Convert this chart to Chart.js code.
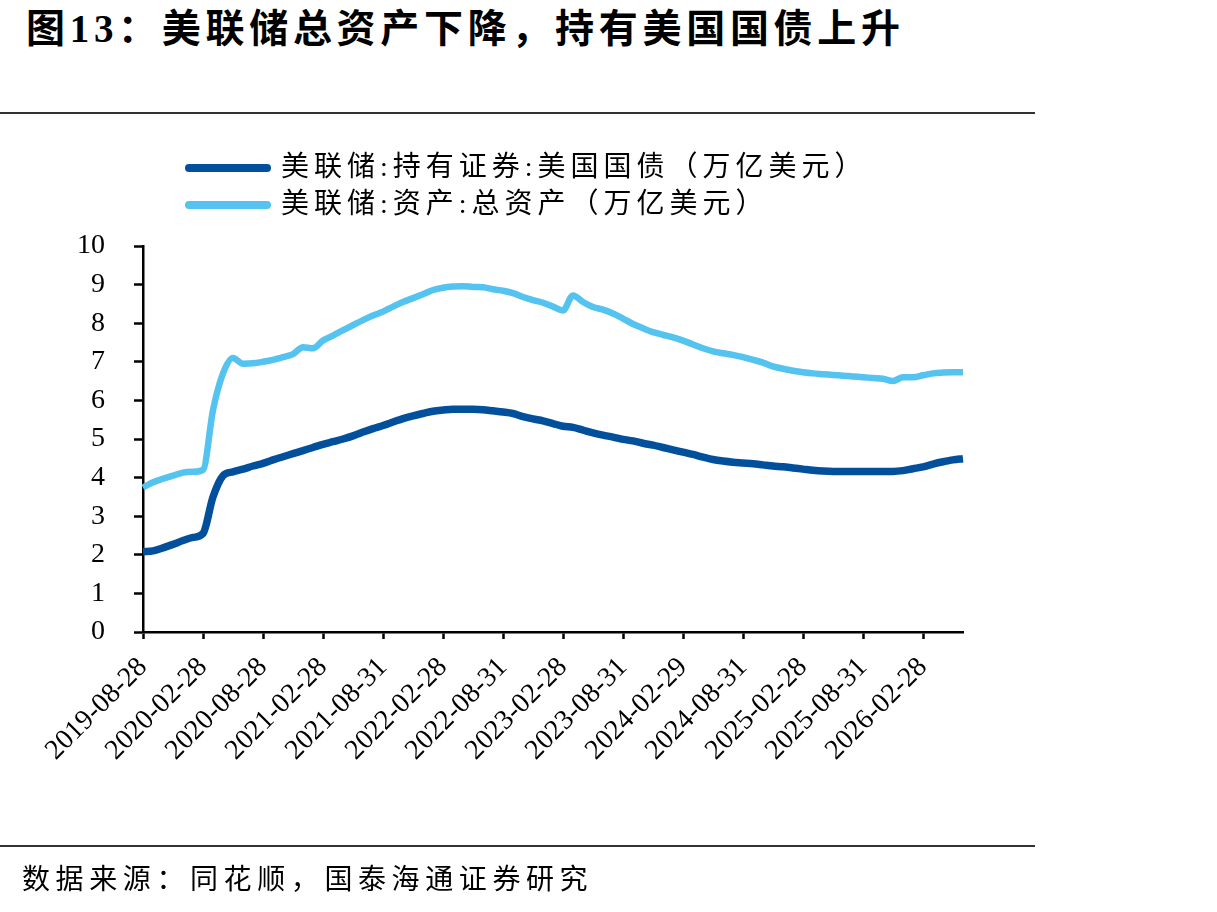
<!DOCTYPE html>
<html lang="zh-CN">
<head>
<meta charset="UTF-8">
<title>图13</title>
<script src="https://cdn.jsdelivr.net/npm/chart.js@4.4.1/dist/chart.umd.min.js"></script>
<style>
  html, body { margin: 0; padding: 0; background: #fff; }
  body { width: 1217px; height: 912px; position: relative; overflow: hidden; font-family: "Liberation Serif", "Noto Sans CJK SC", serif; color: #000; }
  #titulo { position: absolute; left: 26px; top: 9px; font-size: 39px; line-height: 39px; font-weight: bold; letter-spacing: 4.7px; white-space: nowrap; }
  .regua { position: absolute; left: 0; width: 1035px; height: 2px; background: #333; }
  #fonte { position: absolute; left: 22px; top: 865px; font-size: 28px; line-height: 30px; letter-spacing: 5.6px; white-space: nowrap; }
  #chart { position: absolute; left: 0; top: 0; }
</style>
</head>
<body>
<div id="titulo">图13：美联储总资产下降，持有美国国债上升</div>
<div class="regua" style="top:112px"></div>
<canvas id="chart" width="1217" height="912"></canvas>
<div class="regua" style="top:845px"></div>
<div id="fonte">数据来源：同花顺，国泰海通证券研究</div>

<script>
const dates = [
    '2019-08-28', '2019-09-30', '2019-10-31', '2019-11-30', '2019-12-31', '2020-01-31',
    '2020-02-28', '2020-03-31', '2020-04-30', '2020-05-31', '2020-06-30', '2020-07-31',
    '2020-08-28', '2020-09-30', '2020-10-31', '2020-11-30', '2020-12-31', '2021-01-31',
    '2021-02-28', '2021-03-31', '2021-04-30', '2021-05-31', '2021-06-30', '2021-07-31',
    '2021-08-31', '2021-09-30', '2021-10-31', '2021-11-30', '2021-12-31', '2022-01-31',
    '2022-02-28', '2022-03-31', '2022-04-30', '2022-05-31', '2022-06-30', '2022-07-31',
    '2022-08-31', '2022-09-30', '2022-10-31', '2022-11-30', '2022-12-31', '2023-01-31',
    '2023-02-28', '2023-03-31', '2023-04-30', '2023-05-31', '2023-06-30', '2023-07-31',
    '2023-08-31', '2023-09-30', '2023-10-31', '2023-11-30', '2023-12-31', '2024-01-31',
    '2024-02-29', '2024-03-31', '2024-04-30', '2024-05-31', '2024-06-30', '2024-07-31',
    '2024-08-31', '2024-09-30', '2024-10-31', '2024-11-30', '2024-12-31', '2025-01-31',
    '2025-02-28', '2025-03-31', '2025-04-30', '2025-05-31', '2025-06-30', '2025-07-31',
    '2025-08-31', '2025-09-30', '2025-10-31', '2025-11-30', '2025-12-31', '2026-01-31',
    '2026-02-28', '2026-03-31', '2026-04-30', '2026-05-31', '2026-06-30'
];

// 美联储持有美国国债（万亿美元）
const treasuries = [
    2.08, 2.10, 2.18, 2.27, 2.37, 2.45,
    2.55, 3.50, 4.05, 4.15, 4.22, 4.30,
    4.37, 4.46, 4.54, 4.62, 4.70, 4.78,
    4.86, 4.93, 5.00, 5.08, 5.18, 5.27,
    5.35, 5.44, 5.53, 5.60, 5.66, 5.72,
    5.75, 5.77, 5.77, 5.77, 5.76, 5.73,
    5.70, 5.66, 5.58, 5.52, 5.47, 5.40,
    5.33, 5.30, 5.23, 5.16, 5.10, 5.05,
    4.99, 4.95, 4.89, 4.84, 4.78, 4.72,
    4.66, 4.60, 4.53, 4.47, 4.43, 4.40,
    4.38, 4.36, 4.33, 4.30, 4.28, 4.25,
    4.22, 4.19, 4.17, 4.16, 4.16, 4.16,
    4.16, 4.16, 4.16, 4.16, 4.18, 4.23,
    4.28, 4.35, 4.41, 4.46, 4.49
];

// 美联储总资产（万亿美元）
const totalAssets = [
    3.74, 3.88, 3.97, 4.05, 4.13, 4.15,
    4.20, 5.75, 6.70, 7.10, 6.95, 6.96,
    7.00, 7.05, 7.12, 7.20, 7.38, 7.35,
    7.55, 7.68, 7.82, 7.95, 8.08, 8.20,
    8.30, 8.43, 8.55, 8.65, 8.75, 8.86,
    8.92, 8.95, 8.96, 8.94, 8.93, 8.88,
    8.84, 8.78, 8.68, 8.60, 8.53, 8.43,
    8.33, 8.72, 8.55, 8.42, 8.35, 8.25,
    8.12, 7.98, 7.87, 7.77, 7.70, 7.63,
    7.55, 7.45, 7.35, 7.27, 7.22, 7.18,
    7.12, 7.05, 6.98, 6.88, 6.82, 6.77,
    6.73, 6.70, 6.68, 6.66, 6.64, 6.62,
    6.60, 6.58, 6.56, 6.50, 6.60, 6.60,
    6.65, 6.70, 6.72, 6.73, 6.73
];

const seriesNames = ['美联储:持有证券:美国国债（万亿美元）', '美联储:资产:总资产（万亿美元）'];
const seriesColors = ['#02509C', '#55C3F0'];
const yTicks = [0, 1, 2, 3, 4, 5, 6, 7, 8, 9, 10];
const tickEvery = 6;

const serifFont = '"Liberation Serif", "Noto Sans CJK SC", serif';

// legenda desenhada à mão para ficar alinhada à esquerda
const legendLines = {
    id: 'legendLines',
    afterDraw(chart) {
        const ctx = chart.ctx;
        ctx.save();
        chart.data.datasets.forEach((ds, i) => {
            const y = 168 + i * 37;
            ctx.strokeStyle = ds.borderColor;
            ctx.lineWidth = 8;
            ctx.lineCap = 'round';
            ctx.beginPath();
            ctx.moveTo(189, y);
            ctx.lineTo(267, y);
            ctx.stroke();
            ctx.fillStyle = '#000';
            ctx.font = '28px ' + serifFont;
            ctx.letterSpacing = '5px';
            ctx.textBaseline = 'middle';
            ctx.fillText(ds.label, 281, y + 1);
        });
        ctx.restore();
    }
};

const ctx = document.getElementById('chart').getContext('2d');

new Chart(ctx, {
    type: 'line',
    data: {
        labels: dates,
        datasets: [
            {
                label: seriesNames[0],
                data: treasuries,
                borderColor: seriesColors[0],
                backgroundColor: seriesColors[0],
                borderWidth: 7.5,
                pointRadius: 0,
                cubicInterpolationMode: 'monotone'
            },
            {
                label: seriesNames[1],
                data: totalAssets,
                borderColor: seriesColors[1],
                backgroundColor: seriesColors[1],
                borderWidth: 6.5,
                pointRadius: 0,
                cubicInterpolationMode: 'monotone'
            }
        ]
    },
    options: {
        responsive: false,
        devicePixelRatio: 1,
        animation: false,
        layout: { padding: { top: 246, right: 254, left: 0, bottom: 0 } },
        plugins: {
            legend: { display: false },
            tooltip: { enabled: false }
        },
        scales: {
            x: {
                type: 'category',
                offset: false,
                afterBuildTicks: (scale) => {
                    scale.ticks = scale.ticks.filter((t, i) => i % tickEvery === 0);
                },
                afterFit: (scale) => { scale.height = 280; },
                grid: { drawOnChartArea: false, drawTicks: true, tickLength: 7, tickWidth: 2.5, tickColor: '#000' },
                border: { color: '#000', width: 2.5 },
                ticks: {
                    autoSkip: false,
                    maxRotation: 45,
                    minRotation: 45,
                    padding: 12,
                    color: '#000',
                    font: { family: serifFont, size: 28 }
                }
            },
            y: {
                min: yTicks[0],
                max: yTicks[yTicks.length - 1],
                afterFit: (scale) => { scale.width = 143; },
                afterBuildTicks: (scale) => {
                    scale.ticks = yTicks.map(v => ({ value: v }));
                },
                grid: { drawOnChartArea: false, drawTicks: true, tickLength: 9, tickWidth: 2.5, tickColor: '#000' },
                border: { color: '#000', width: 2.5 },
                ticks: {
                    padding: 29,
                    color: '#000',
                    font: { family: serifFont, size: 28 }
                }
            }
        }
    },
    plugins: [legendLines]
});
</script>
</body>
</html>
